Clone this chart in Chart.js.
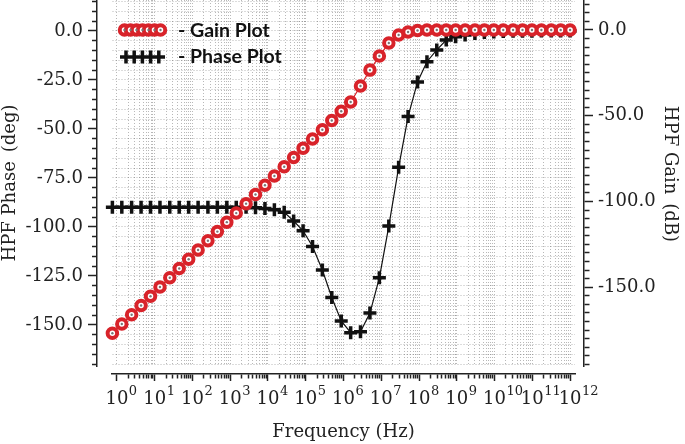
<!DOCTYPE html>
<html>
<head>
<meta charset="utf-8">
<script src="https://cdn.jsdelivr.net/npm/chart.js@4.4.1/dist/chart.umd.min.js"></script>
<style>
  html, body { margin: 0; padding: 0; background: #fff; }
  #wrap { width: 685px; height: 444px; }
</style>
</head>
<body>
<div id="wrap"><canvas id="plot"></canvas></div>
<script>
// ---------- Data ----------
// x position of each sample, as log10(frequency in Hz)
const logFreq = [
  -0.12, 0.13, 0.39, 0.64, 0.89, 1.14, 1.40, 1.65, 1.90, 2.15,
  2.41, 2.66, 2.91, 3.16, 3.42, 3.67, 3.92, 4.17, 4.43, 4.68,
  4.93, 5.18, 5.44, 5.69, 5.94, 6.19, 6.45, 6.70, 6.95, 7.20,
  7.46, 7.71, 7.96, 8.21, 8.47, 8.72, 8.97, 9.22, 9.48, 9.73,
  9.98, 10.23, 10.49, 10.74, 10.99, 11.24, 11.50, 11.75, 12.00
];

// HPF phase (deg), left axis
const phaseDeg = [
  -90, -90, -90, -90, -90, -90, -90, -90, -90, -90,
  -90, -90, -90, -90, -90, -90.2, -90.6, -91.3, -92.5, -97,
  -102, -110, -122, -136, -148, -154, -153.5, -144, -126, -99.6,
  -69.6, -43.7, -26, -15.7, -9.7, -4.6, -3, -2, -1.3, -0.8,
  -0.5, -0.3, -0.2, -0.1, -0.1, 0, 0, 0, 0
];

// HPF gain (dB), right axis
const gainDb = [
  -176.9, -171.5, -166.1, -160.7, -155.3, -149.9, -144.5, -139.1, -133.7, -128.3,
  -122.9, -117.6, -112.1, -106.8, -101.3, -96.0, -90.6, -85.2, -79.8, -74.4,
  -69.0, -63.6, -58.2, -52.8, -47.4, -42.0, -32.7, -23.4, -15.2, -7.6,
  -2.9, -1.2, -0.3, 0, 0, 0, 0, 0, 0, 0,
  0, 0, 0, 0, 0, 0, 0, 0, 0
];

// labelled ticks
const decades = [0, 1, 2, 3, 4, 5, 6, 7, 8, 9, 10, 11, 12];
const phaseTickLabels = [0, -25, -50, -75, -100, -125, -150];
const gainTickLabels = [0, -50, -100, -150];

// ---------- Style ----------
const SERIF = "'DejaVu Serif', serif";
const INK = "#222";
const GRID = "rgba(0,0,0,0.28)";
const RED = "#d8232a";
const X_TICK_LEN = 7, X_TICK_PAD = 8;

function zeroPad(s) {
  s.paddingTop = 0; s.paddingBottom = 0; s.paddingLeft = 0; s.paddingRight = 0;
}

// unlabelled minor ticks get a tiny font so they add no padding to the layout
function tickFont(labels) {
  return c => ({ family: SERIF, size: (c.tick && labels.includes(c.tick.value)) ? 18 : 1 });
}

// empty scale used only to push an axis away from the plot area
function spacer(axis, position, size) {
  return {
    type: "linear", axis, position, weight: 0, display: true,
    grid: { display: false, drawTicks: false },
    border: { display: false },
    ticks: { display: false },
    afterFit: s => { if (axis === "x") s.height = size; else s.width = size; zeroPad(s); }
  };
}

const gainPts = logFreq.map((x, i) => ({ x, y: gainDb[i] }));
const phasePts = logFreq.map((x, i) => ({ x, y: phaseDeg[i] }));

// ---------- Decade exponents (superscripts next to the "10" tick labels) ----------
const exponents = {
  id: "exponents",
  afterDraw(chart) {
    const sc = chart.scales.x;
    const ctx = chart.ctx;
    const y0 = sc.top + X_TICK_LEN + X_TICK_PAD;
    ctx.save();
    ctx.fillStyle = INK;
    ctx.textBaseline = "top";
    ctx.textAlign = "left";
    ctx.font = "18px " + SERIF;
    const half = ctx.measureText("10").width / 2;
    ctx.font = "13px " + SERIF;
    decades.forEach(d => {
      const px = sc.getPixelForValue(d);
      ctx.fillText(String(d), px + half + 0.5, y0 - 4);
    });
    ctx.restore();
  }
};

// ---------- Legend drawn inside the plot ----------
const insideLegend = {
  id: "insideLegend",
  afterDraw(chart) {
    const ctx = chart.ctx;
    ctx.save();
    // gain swatch: row of ringed markers
    for (let i = 0; i < 7; i++) {
      const cx = 124.5 + i * 6, cy = 30;
      ctx.beginPath();
      ctx.arc(cx, cy, 4.75, 0, Math.PI * 2);
      ctx.fillStyle = "#fff";
      ctx.fill();
      ctx.lineWidth = 4;
      ctx.strokeStyle = RED;
      ctx.stroke();
    }
    for (let i = 0; i < 7; i++) {
      ctx.beginPath();
      ctx.arc(124.5 + i * 6, 30, 1.2, 0, Math.PI * 2);
      ctx.fillStyle = "#777";
      ctx.fill();
    }
    // phase swatch: line with crosses
    ctx.strokeStyle = "#111";
    ctx.lineWidth = 3.5;
    ctx.beginPath();
    ctx.moveTo(120, 57); ctx.lineTo(165, 57);
    for (let i = 0; i < 5; i++) {
      const cx = 126 + i * 8.2;
      ctx.moveTo(cx, 50.5); ctx.lineTo(cx, 63.5);
    }
    ctx.stroke();

    ctx.fillStyle = "#111";
    ctx.font = "bold 19.5px Lato";
    ctx.textBaseline = "middle";
    ctx.fillText("- Gain Plot", 178, 31);
    ctx.fillText("- Phase Plot", 178, 57);
    ctx.restore();
  }
};

// ---------- Chart ----------
const chart = new Chart(document.getElementById("plot"), {
  type: "line",
  data: {
    datasets: [
      {
        label: "Gain centres",
        data: gainPts, xAxisID: "x", yAxisID: "y2",
        showLine: false, pointStyle: "circle", pointRadius: 1.2,
        pointBackgroundColor: "#777", pointBorderWidth: 0,
        order: 0, clip: false
      },
      {
        label: "Gain Plot",
        data: gainPts, xAxisID: "x", yAxisID: "y2",
        borderColor: RED, borderWidth: 1.2,
        pointStyle: "circle", pointRadius: 4.75, pointBorderWidth: 4,
        pointBorderColor: RED, pointBackgroundColor: "#fff",
        order: 1, clip: false
      },
      {
        label: "Phase Plot",
        data: phasePts, xAxisID: "x", yAxisID: "y",
        borderColor: "#111", borderWidth: 1.2,
        pointStyle: "cross", pointRadius: 6.5, pointBorderWidth: 3.5,
        pointBorderColor: "#111",
        order: 2, clip: false
      }
    ]
  },
  options: {
    responsive: true,
    maintainAspectRatio: false,
    animation: false,
    events: [],
    layout: { padding: 0, autoPadding: false },
    plugins: { legend: { display: false }, tooltip: { enabled: false } },
    scales: {
      xs: spacer("x", "bottom", 8),
      ysl: spacer("y", "left", 15),
      ysr: spacer("y", "right", 9),
      x: {
        type: "linear", position: "bottom", weight: 1,
        min: -0.13, max: 12.13,
        afterBuildTicks: s => {
          const t = [];
          decades.forEach(d => {
            t.push({ value: d });
            if (d < 12) for (let m = 2; m <= 9; m++) t.push({ value: d + Math.log10(m) });
          });
          s.ticks = t;
        },
        ticks: {
          autoSkip: false, maxRotation: 0, minRotation: 0, padding: X_TICK_PAD,
          color: INK, font: tickFont(decades),
          callback: v => decades.includes(v) ? "10" : ""
        },
        grid: {
          color: GRID, lineWidth: 1, tickLength: X_TICK_LEN, tickColor: INK, tickWidth: 1.5,
          tickBorderDash: c => (c.tick && decades.includes(c.tick.value)) ? [] : [4, 50]
        },
        border: { color: INK, width: 1.5, dash: [1, 2] },
        title: {
          display: true, text: "Frequency (Hz)", color: INK,
          font: { family: SERIF, size: 18 }, padding: { top: 0, bottom: 1 }
        },
        afterFit: s => { s.height = 70; zeroPad(s); }
      },
      y: {
        type: "linear", position: "left", weight: 1,
        min: -171, max: 15.8,
        afterBuildTicks: s => {
          const t = [];
          for (let v = -170; v <= 15; v += 5) t.push({ value: v });
          s.ticks = t;
        },
        ticks: {
          autoSkip: false, padding: 5, color: INK, font: tickFont(phaseTickLabels),
          callback: v => phaseTickLabels.includes(v) ? v.toFixed(1) : ""
        },
        grid: {
          color: GRID, lineWidth: 1, tickLength: 9, tickColor: INK, tickWidth: 1.5,
          tickBorderDash: c => (c.tick && phaseTickLabels.includes(c.tick.value)) ? [] : [0, 4, 5, 50]
        },
        border: { color: INK, width: 1.5, dash: [1, 2] },
        title: {
          display: true, text: "HPF Phase\u2002(deg)", color: INK,
          font: { family: SERIF, size: 18 }, padding: { top: 0, bottom: 0 }
        },
        afterFit: s => { s.width = 97; zeroPad(s); }
      },
      y2: {
        type: "linear", position: "right", weight: 1,
        min: -196, max: 17.5,
        afterBuildTicks: s => {
          const t = [];
          for (let v = -195; v <= 15; v += 5) t.push({ value: v });
          s.ticks = t;
        },
        ticks: {
          autoSkip: false, padding: 5, color: INK, font: tickFont(gainTickLabels),
          callback: v => gainTickLabels.includes(v) ? v.toFixed(1) : ""
        },
        grid: {
          drawOnChartArea: false, tickLength: 9, tickColor: INK, tickWidth: 1.5,
          tickBorderDash: c => (c.tick && gainTickLabels.includes(c.tick.value)) ? [] : [5, 50]
        },
        border: { color: INK, width: 1.5 },
        title: {
          display: true, text: "HPF Gain\u2002(dB)\u2003", color: INK,
          font: { family: SERIF, size: 18 }, padding: { top: 5, bottom: 0 }
        },
        afterFit: s => { s.width = 101; zeroPad(s); }
      }
    }
  },
  plugins: [exponents, insideLegend]
});
</script>
</body>
</html>
